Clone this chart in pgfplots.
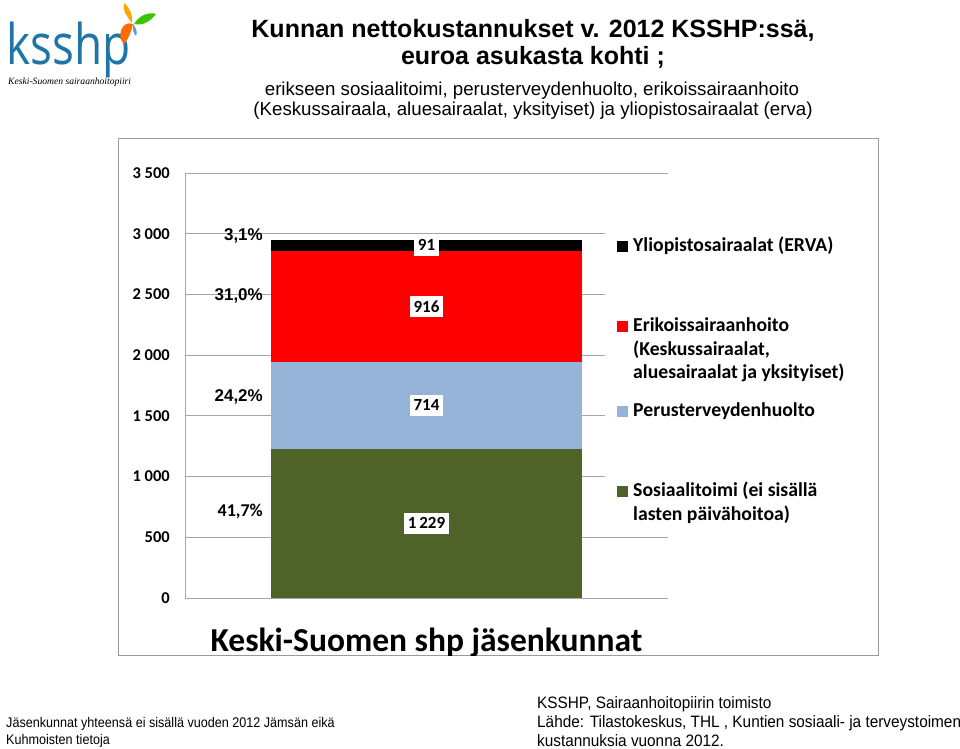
\documentclass[border=0pt]{standalone}
\usepackage{pgfplots}
\pgfplotsset{compat=1.18}
\usepackage{fontspec}
\setmainfont{Liberation Sans}
\newfontfamily\carlito{Carlito}
\newfontfamily\narrowL[FakeStretch=0.9]{Liberation Sans}
\newfontfamily\narrowR[FakeStretch=0.93]{Liberation Sans}
\newfontfamily\opensans{Open Sans}
\newfontfamily\lserif{Liberation Serif}
\definecolor{sgreen}{HTML}{4F6228}
\definecolor{sblue}{HTML}{95B3D7}
\definecolor{sred}{HTML}{FF0000}
\definecolor{logoblue}{HTML}{1F75A8}
\definecolor{gridgray}{HTML}{A6A6A6}
\definecolor{framegray}{HTML}{9A9A9A}
\newcommand{\fsz}[2]{\fontsize{#1pt}{#2pt}\selectfont}
\begin{document}
\begin{tikzpicture}
\useasboundingbox (0,0) rectangle (960pt,-748pt);
% chart frame
\draw[framegray, line width=1pt] (118pt,-138pt) rectangle (878pt,-655pt);
% titles
\node[anchor=base, inner sep=0pt, font=\bfseries\fsz{25}{25}] at (533pt,-37pt) {Kunnan nettokustannukset v. 2012 KSSHP:ssä,};
\node[anchor=base, inner sep=0pt, font=\bfseries\fsz{25}{25}] at (533pt,-64pt) {euroa asukasta kohti ;};
\node[anchor=base, inner sep=0pt, font=\fsz{18.7}{18.7}] at (532pt,-95pt) {erikseen sosiaalitoimi, perusterveydenhuolto, erikoissairaanhoito};
\node[anchor=base, inner sep=0pt, font=\fsz{18.7}{18.7}] at (533pt,-115pt) {(Keskussairaala, aluesairaalat, yksityiset) ja yliopistosairaalat (erva)};
% logo
\node[anchor=base west, inner sep=0pt, font=\opensans\fsz{56}{56}, text=logoblue, xscale=0.82] at (6pt,-64pt) {ksshp};
\node[anchor=base west, inner sep=0pt, font=\lserif\itshape\fsz{9.6}{9.6}] at (8pt,-84pt) {Keski-Suomen sairaanhoitopiiri};
\fill[orange!85!red] (133pt,-24pt) .. controls (122pt,-20pt) and (116pt,-36pt) .. (124pt,-44pt) .. controls (128pt,-40pt) and (131pt,-32pt) .. cycle;
\fill[green!55!olive] (134pt,-24pt) .. controls (140pt,-14pt) and (150pt,-12pt) .. (156pt,-14pt) .. controls (150pt,-22pt) and (142pt,-26pt) .. cycle;
\fill[orange!70!yellow] (132pt,-23pt) .. controls (126pt,-16pt) and (122pt,-8pt) .. (124pt,-3pt) .. controls (130pt,-8pt) and (133pt,-15pt) .. cycle;
\fill[logoblue!70] (133pt,-24pt) .. controls (136pt,-28pt) and (138pt,-32pt) .. (136pt,-36pt) .. controls (133pt,-32pt) .. cycle;

\begin{axis}[
  at={(185pt,-598pt)}, anchor=south west,
  scale only axis, width=483pt, height=425pt,
  xmin=-0.5, xmax=0.5, ymin=0, ymax=3500,
  ybar stacked, bar width=311pt,
  axis lines*=left,
  axis line style={gridgray, line width=0.8pt},
  xtick=\empty,
  ytick={0,500,...,3500},
  ymajorgrids, grid style={gridgray, line width=0.8pt},
  major tick length=0pt,
  /pgf/number format/assume math mode=true,
  /pgf/number format/1000 sep={\ },
  yticklabel style={font=\carlito\bfseries\fsz{16.5}{16.5}, anchor=east, inner sep=0pt, xshift=-15pt},
  xlabel={Keski-Suomen shp jäsenkunnat},
  xlabel style={font=\carlito\bfseries\fsz{33.5}{33.5}, at={(axis description cs:0.5,0)}, anchor=base, yshift=-53pt, inner sep=0pt},
  reverse legend,
  legend image code/.code={\fill[#1] (0pt,0pt) rectangle (11pt,11pt);},
  legend style={at={(axis description cs:0.8696,0.8871)}, anchor=north west, draw=none, fill=white,
    font=\carlito\bfseries\fsz{19.7}{23.5}, inner xsep=12pt, inner ysep=14pt, row sep=65.5pt, column sep=3pt,
    cells={anchor=base west, inner sep=0pt}},
]
\addplot[fill=sgreen, draw=none] coordinates {(0,1229)};
\addlegendentry{\raisebox{0pt}[0pt][45pt]{\begin{tabular}[t]{@{}l@{}}Sosiaalitoimi (ei sisällä\\lasten päivähoitoa)\end{tabular}}}
\addplot[fill=sblue, draw=none] coordinates {(0,714)};
\addlegendentry{Perusterveydenhuolto}
\addplot[fill=sred, draw=none] coordinates {(0,916)};
\addlegendentry{\raisebox{0pt}[0pt][0pt]{\begin{tabular}[t]{@{}l@{}}Erikoissairaanhoito\\(Keskussairaalat,\\aluesairaalat ja yksityiset)\end{tabular}}}
\addplot[fill=black, draw=none] coordinates {(0,91)};
\addlegendentry{Yliopistosairaalat (ERVA)}
\end{axis}

\begin{axis}[
  at={(185pt,-598pt)}, anchor=south west,
  scale only axis, width=483pt, height=425pt,
  xmin=-0.5, xmax=0.5, ymin=0, ymax=3500,
  hide axis, clip=false,
]
\addplot[draw=none, mark=none, nodes near coords, point meta=explicit symbolic,
  every node near coord/.append style={anchor=center, fill=white, font=\carlito\bfseries\fsz{17}{17}, inner xsep=4pt, inner ysep=5pt}]
  coordinates {(0,614.5) [1\,229] (0,1586) [714] (0,2401) [916] (0,2904.5) [91]};
\addplot[draw=none, mark=none, nodes near coords, point meta=explicit symbolic,
  every node near coord/.append style={anchor=east, inner sep=0pt, font=\bfseries\fsz{17}{17}}]
  coordinates {(-0.3385,2981) [3,1\%] (-0.3385,2487) [31,0\%] (-0.3385,1655) [24,2\%] (-0.3385,716) [{\carlito\fsz{18}{18}41,7\%}]};
\end{axis}
% clip descenders of x label at the frame
\fill[white] (200pt,-655.6pt) rectangle (660pt,-672pt);
% footnotes
\node[anchor=base west, inner sep=0pt, font=\narrowL\fsz{14}{14}] at (6pt,-727pt) {Jäsenkunnat yhteensä ei sisällä vuoden 2012 Jämsän eikä};
\node[anchor=base west, inner sep=0pt, font=\narrowL\fsz{14}{14}] at (6pt,-744pt) {Kuhmoisten tietoja};
\node[anchor=base west, inner sep=0pt, font=\narrowR\fsz{16.5}{16.5}] at (537pt,-708pt) {KSSHP, Sairaanhoitopiirin toimisto};
\node[anchor=base west, inner sep=0pt, font=\narrowR\fsz{16.5}{16.5}] at (537pt,-727pt) {Lähde: Tilastokeskus, THL , Kuntien sosiaali- ja terveystoimen};
\node[anchor=base west, inner sep=0pt, font=\narrowR\fsz{16.5}{16.5}] at (537pt,-746pt) {kustannuksia vuonna 2012.};
\end{tikzpicture}
\end{document}
